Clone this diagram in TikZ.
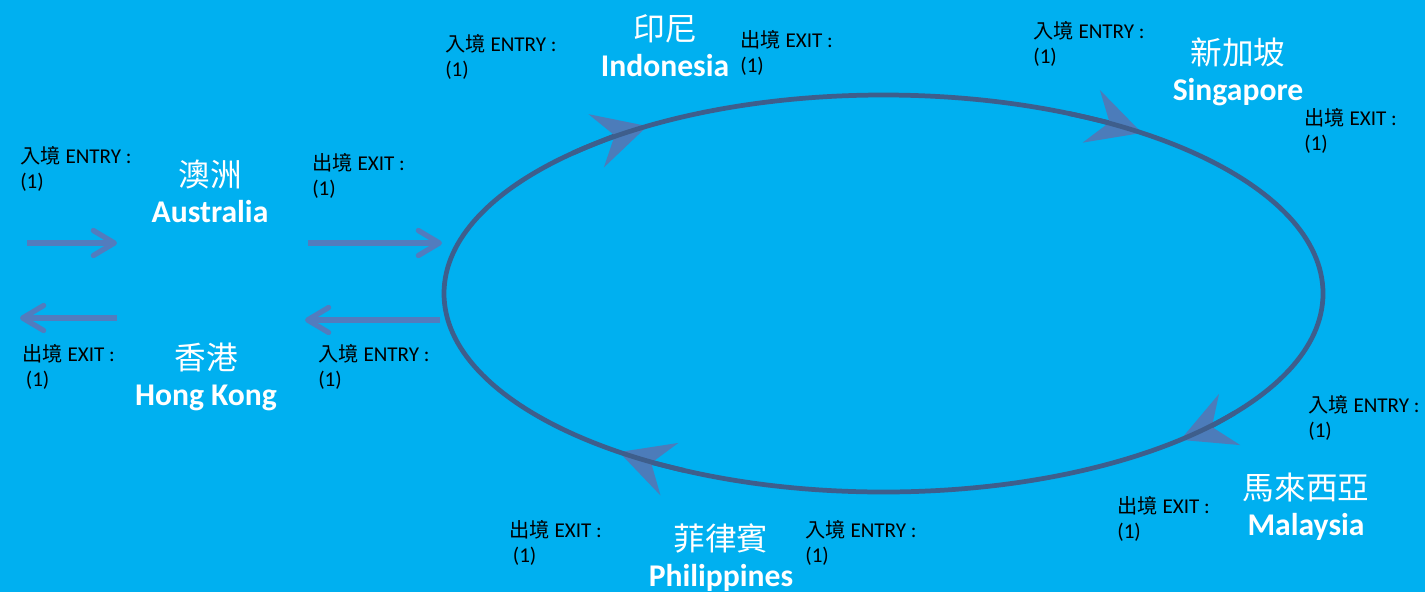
\documentclass[tikz,border=0pt]{standalone}
\usepackage{fontspec}
\setmainfont{Carlito}
\newfontfamily\cjk{Noto Sans CJK TC}
\usepackage{tikz}
\usetikzlibrary{arrows.meta}

\definecolor{skyback}{RGB}{0,176,240}
\definecolor{ringline}{RGB}{62,94,140}
\definecolor{headblue}{RGB}{76,124,186}
\definecolor{flowblue}{RGB}{82,124,190}

\tikzstyle{note} = [anchor=north west, align=left, inner sep=0pt,
    font=\fontsize{12}{14.5}\selectfont]
\tikzstyle{country} = [align=center, inner sep=0pt, text=white,
    font=\fontsize{18}{20.5}\selectfont]
\tikzstyle{flow} = [draw=flowblue, line width=3pt,
    -{Straight Barb[length=0.42cm, width=0.5cm, round]}]
\tikzstyle{ringhead} = [draw=ringline, line width=2.7pt,
    -{Stealth[length=1.06cm, width=1.1cm, inset=0.38cm, color=headblue]}]
\tikzstyle{ring} = [draw=ringline, line width=2.7pt]

\newcommand{\entrytext}{{\cjk\fontsize{11.5}{14.5}\selectfont 入境} ENTRY :\\(1)}
\newcommand{\exittext}{{\cjk\fontsize{11.5}{14.5}\selectfont 出境} EXIT :\\(1)}
\newcommand{\exittextb}{{\cjk\fontsize{11.5}{14.5}\selectfont 出境} EXIT :\\\hspace{2pt}(1)}

\begin{document}
\begin{tikzpicture}[x=0.02cm, y=-0.02cm]
        \fill[skyback] (0,0) rectangle (1425,592);
        \useasboundingbox (0,0) rectangle (1425,592);

        % countries
        \node[country] at (210,191) (aus) {{\cjk 澳洲}\\\textbf{Australia}};
        \node[country] at (206,377) (hkg) {{\cjk 香港}\\\textbf{Hong Kong}};
        \node[country] at (665,46) (idn) {{\cjk 印尼}\\\textbf{Indonesia}};
        \node[country] at (1238,72) (sgp) {{\cjk 新加坡}\\\textbf{Singapore}};
        \node[country] at (1306,507) (mys) {{\cjk 馬來西亞}\\\textbf{Malaysia}};
        \node[country] at (721,558) (phl) {{\cjk 菲律賓}\\\textbf{Philippines}};

        % entry / exit counters
        \node[note] at (20,146) (ausin) {\entrytext};
        \node[note] at (312,153) (ausout) {\exittext};
        \node[note] at (22,344) (hkgout) {\exittextb};
        \node[note] at (318,344) (hkgin) {\entrytext};
        \node[note] at (445,34) (idnin) {\entrytext};
        \node[note] at (740,30) (idnout) {\exittext};
        \node[note] at (1033,21) (sgpin) {\entrytext};
        \node[note] at (1304,108) (sgpout) {\exittext};
        \node[note] at (1308,395) (mysin) {\entrytext};
        \node[note] at (1117,496) (mysout) {\exittext};
        \node[note] at (509,520) (phlout) {\exittextb};
        \node[note] at (805,520) (phlin) {\entrytext};

        \coordinate (ausin-a) at (27,243);
        \coordinate (ausin-b) at (117,243);
        \coordinate (ausout-a) at (308,243);
        \coordinate (ausout-b) at (442,243);
        \coordinate (hkgout-a) at (117,318);
        \coordinate (hkgout-b) at (20,318);
        \coordinate (hkgin-a) at (440,320);
        \coordinate (hkgin-b) at (305,320);

            \draw[flow] (ausin-a) -- (ausin-b);
            \draw[flow] (ausout-a) -- (ausout-b);
            \draw[flow] (hkgout-a) -- (hkgout-b);
            \draw[flow] (hkgin-a) -- (hkgin-b);

        % the loop
        \coordinate (hub) at (883.5,293.5);
            \draw[ringhead] ([shift={(225:439.5 and 198.5)}]hub) arc[start angle=225, end angle=237.5, x radius=439.5, y radius=198.5];
            \draw[ringhead] ([shift={(295:439.5 and 198.5)}]hub) arc[start angle=295, end angle=306, x radius=439.5, y radius=198.5];
            \draw[ringhead] ([shift={(37:439.5 and 198.5)}]hub) arc[start angle=37, end angle=47.5, x radius=439.5, y radius=198.5];
            \draw[ringhead] ([shift={(117:439.5 and 198.5)}]hub) arc[start angle=117, end angle=127, x radius=439.5, y radius=198.5];
            \draw[ring] (hub) ellipse[x radius=439.5, y radius=198.5];
\end{tikzpicture}
\end{document}
